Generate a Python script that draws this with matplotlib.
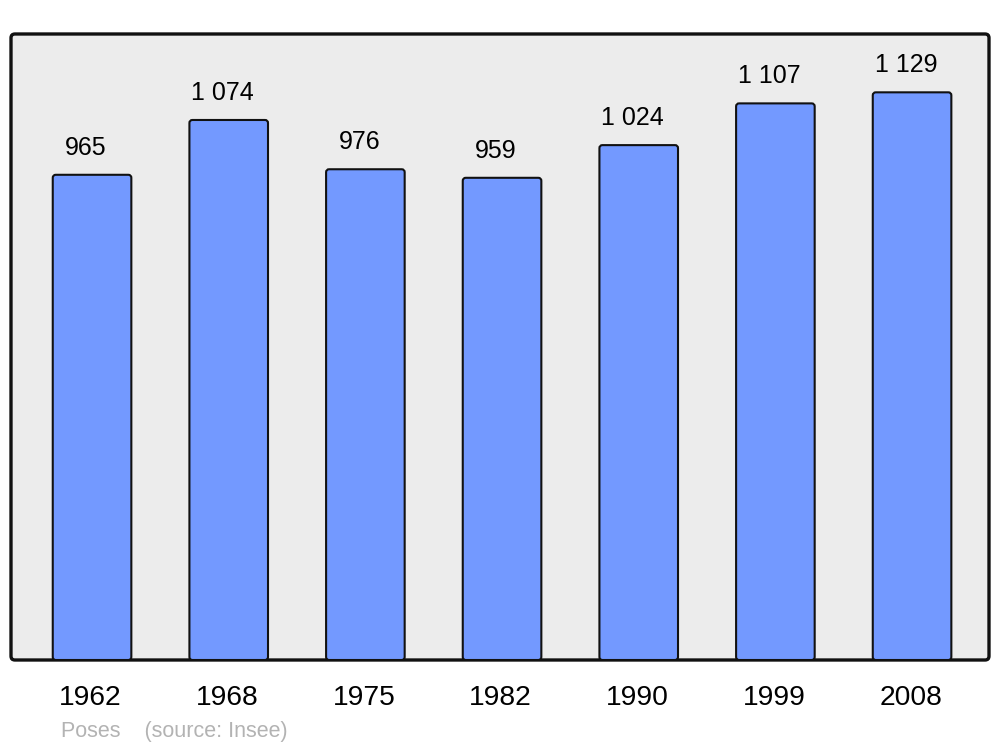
import numpy as np
import matplotlib.pyplot as plt
from matplotlib.patches import FancyBboxPatch
from matplotlib.transforms import blended_transform_factory, offset_copy

plt.rcParams['font.family'] = ['Liberation Sans', 'DejaVu Sans']

years = ["1962", "1968", "1975", "1982", "1990", "1999", "2008"]
population = [965, 1074, 976, 959, 1024, 1107, 1129]
footer = "Poses    (source: Insee)"

W, H = 1000, 747
fig = plt.figure(figsize=(W / 100, H / 100), dpi=100)
# panel: x 11..989 px, y 34..660 px
ax = fig.add_axes([11 / W, (H - 660) / H, 978 / W, 626 / H])
ax.set_xlim(-0.593, 6.563)
ax.set_ylim(0, 1245)
ax.axis("off")

# px per data unit
px_x = 978 / (6.563 + 0.593)
px_y = 626 / 1245

# rounded background panel
panel = FancyBboxPatch((0, 0), 1, 1, boxstyle="round,pad=0,rounding_size=0.004",
                       mutation_aspect=978 / 626, transform=ax.transAxes,
                       facecolor="#ececec", edgecolor="#111111", linewidth=2.4,
                       clip_on=False, zorder=0)
ax.add_patch(panel)

bar_w = 0.575
r = 3 / px_x
# value labels sit a bit left of the bar centre in the original
label_trans = offset_copy(ax.transData, fig=fig, x=-6, y=20, units="dots")
for i, (year, val) in enumerate(zip(years, population)):
    bar = FancyBboxPatch((i - bar_w / 2, 0), bar_w, val,
                         boxstyle=f"round,pad=0,rounding_size={r}",
                         mutation_aspect=px_x / px_y,
                         facecolor="#7399ff", edgecolor="#111111", linewidth=1.5,
                         zorder=2)
    ax.add_patch(bar)
    label = f"{val:,}".replace(",", " ")
    ax.text(i, val, label, ha="center", va="baseline", fontsize=18,
            color="black", transform=label_trans)

# year labels under the panel
trans = blended_transform_factory(ax.transData, fig.transFigure)
for i, year in enumerate(years):
    ax.text(i - 0.01, (H - 705) / H, year, ha="center", va="baseline", fontsize=20.3,
            color="black", transform=trans)

fig.text(61 / W, (H - 737) / H, footer, ha="left", va="baseline",
         fontsize=15.5, color="#b3b3b3")

fig.savefig("out.png", dpi=100)
